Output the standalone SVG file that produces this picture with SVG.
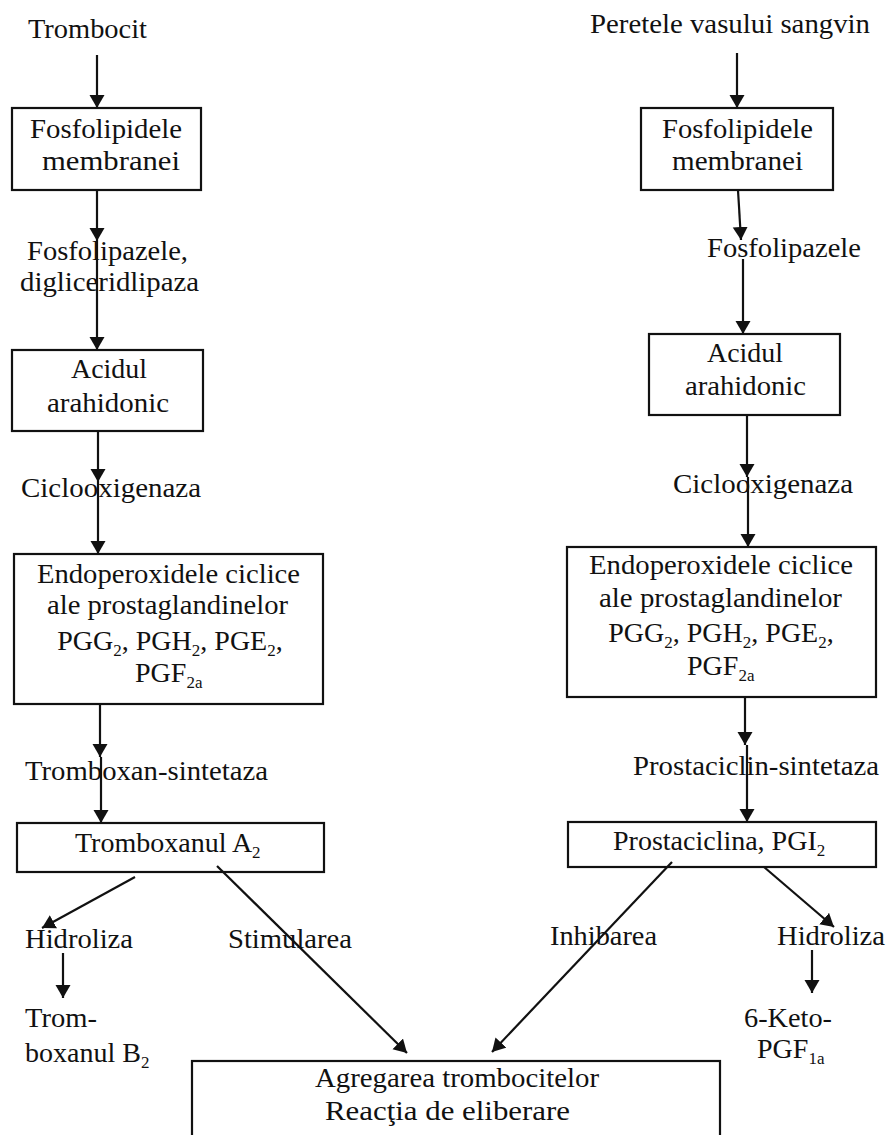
<svg xmlns="http://www.w3.org/2000/svg" width="887" height="1135" viewBox="0 0 887 1135">
<defs>
<style>
text{font-family:"Liberation Serif","Times New Roman",serif;font-size:28px;fill:#111}
.sub{font-size:17px}
.box{fill:none;stroke:#111;stroke-width:2.2}
.c line{stroke:#111;stroke-width:2.2;marker-end:url(#ah)}
</style>
<marker id="ah" markerUnits="userSpaceOnUse" markerWidth="16" markerHeight="16" refX="13" refY="7.5" orient="auto">
<path d="M0,0 L13,7.5 L0,15 z" fill="#111"/>
</marker>
</defs>
<rect width="887" height="1135" fill="#fff"/>

<g id="trombocit"><text x="28" y="38" textLength="119" lengthAdjust="spacingAndGlyphs">Trombocit</text></g>
<g id="L-fosfolipide"><rect class="box" x="12" y="108" width="189" height="82"/>
<text x="30" y="138" textLength="152" lengthAdjust="spacingAndGlyphs">Fosfolipidele</text>
<text x="42" y="170" textLength="138" lengthAdjust="spacingAndGlyphs">membranei</text></g>
<g id="L-fosfolipaze"><text x="27" y="260" textLength="161" lengthAdjust="spacingAndGlyphs">Fosfolipazele,</text>
<text x="20" y="291" textLength="179" lengthAdjust="spacingAndGlyphs">digliceridlipaza</text></g>
<g id="L-acid"><rect class="box" x="12" y="350" width="191" height="81"/>
<text x="71" y="378" textLength="76" lengthAdjust="spacingAndGlyphs">Acidul</text>
<text x="47" y="412" textLength="122" lengthAdjust="spacingAndGlyphs">arahidonic</text></g>
<g id="L-ciclo"><text x="21" y="497" textLength="180" lengthAdjust="spacingAndGlyphs">Ciclooxigenaza</text></g>
<g id="L-endo"><rect class="box" x="14" y="554" width="309" height="150"/>
<text x="37" y="583" textLength="263" lengthAdjust="spacingAndGlyphs">Endoperoxidele ciclice</text>
<text x="47" y="614" textLength="241" lengthAdjust="spacingAndGlyphs">ale prostaglandinelor</text>
<text x="170" y="650" text-anchor="middle">PGG<tspan class="sub" dy="6">2</tspan><tspan dy="-6">, PGH</tspan><tspan class="sub" dy="6">2</tspan><tspan dy="-6">, PGE</tspan><tspan class="sub" dy="6">2</tspan><tspan dy="-6">,</tspan></text>
<text x="135" y="682">PGF<tspan class="sub" dy="6">2a</tspan></text></g>
<g id="L-sintetaza"><text x="25" y="780" textLength="243" lengthAdjust="spacingAndGlyphs">Tromboxan-sintetaza</text></g>
<g id="L-tromboxan"><rect class="box" x="17" y="823" width="307" height="49"/>
<text x="75" y="852">Tromboxanul A<tspan class="sub" dy="6">2</tspan></text></g>
<g id="L-hidroliza"><text x="25" y="948" textLength="108" lengthAdjust="spacingAndGlyphs">Hidroliza</text></g>
<g id="stimularea"><text x="228" y="948" textLength="124" lengthAdjust="spacingAndGlyphs">Stimularea</text></g>
<g id="tromboxanB2"><text x="25" y="1027" textLength="72" lengthAdjust="spacingAndGlyphs">Trom-</text>
<text x="25" y="1062">boxanul B<tspan class="sub" dy="6">2</tspan></text></g>

<g id="perete"><text x="590" y="33" textLength="280" lengthAdjust="spacingAndGlyphs">Peretele vasului sangvin</text></g>
<g id="R-fosfolipide"><rect class="box" x="641" y="108" width="192" height="82"/>
<text x="662" y="138" textLength="151" lengthAdjust="spacingAndGlyphs">Fosfolipidele</text>
<text x="672" y="170" textLength="131" lengthAdjust="spacingAndGlyphs">membranei</text></g>
<g id="R-fosfolipaze"><text x="707" y="257" textLength="154" lengthAdjust="spacingAndGlyphs">Fosfolipazele</text></g>
<g id="R-acid"><rect class="box" x="649" y="334" width="191" height="81"/>
<text x="707" y="362" textLength="76" lengthAdjust="spacingAndGlyphs">Acidul</text>
<text x="685" y="395" textLength="121" lengthAdjust="spacingAndGlyphs">arahidonic</text></g>
<g id="R-ciclo"><text x="673" y="493" textLength="180" lengthAdjust="spacingAndGlyphs">Ciclooxigenaza</text></g>
<g id="R-endo"><rect class="box" x="567" y="547" width="309" height="150"/>
<text x="589" y="574" textLength="264" lengthAdjust="spacingAndGlyphs">Endoperoxidele ciclice</text>
<text x="599" y="607" textLength="243" lengthAdjust="spacingAndGlyphs">ale prostaglandinelor</text>
<text x="721" y="642" text-anchor="middle">PGG<tspan class="sub" dy="6">2</tspan><tspan dy="-6">, PGH</tspan><tspan class="sub" dy="6">2</tspan><tspan dy="-6">, PGE</tspan><tspan class="sub" dy="6">2</tspan><tspan dy="-6">,</tspan></text>
<text x="687" y="675">PGF<tspan class="sub" dy="6">2a</tspan></text></g>
<g id="R-sintetaza"><text x="633" y="775" textLength="246" lengthAdjust="spacingAndGlyphs">Prostaciclin-sintetaza</text></g>
<g id="R-prostaciclina"><rect class="box" x="568" y="822" width="308" height="45"/>
<text x="613" y="850">Prostaciclina, PGI<tspan class="sub" dy="6">2</tspan></text></g>
<g id="inhibarea"><text x="550" y="945" textLength="107" lengthAdjust="spacingAndGlyphs">Inhibarea</text></g>
<g id="R-hidroliza"><text x="777" y="945" textLength="108" lengthAdjust="spacingAndGlyphs">Hidroliza</text></g>
<g id="keto"><text x="744" y="1027" textLength="88" lengthAdjust="spacingAndGlyphs">6-Keto-</text>
<text x="757" y="1058">PGF<tspan class="sub" dy="6">1a</tspan></text></g>

<g id="agregare"><rect class="box" x="192" y="1061" width="528" height="90"/>
<text x="315" y="1087" textLength="284" lengthAdjust="spacingAndGlyphs">Agregarea trombocitelor</text>
<text x="325" y="1120" textLength="245" lengthAdjust="spacingAndGlyphs">Reacţia de eliberare</text></g>

<g id="connectors" class="c">
<line x1="97" y1="55" x2="97" y2="108"/>
<line x1="97" y1="190" x2="97" y2="241"/>
<line x1="97" y1="241" x2="97" y2="350"/>
<line x1="98" y1="431" x2="98" y2="482"/>
<line x1="98" y1="482" x2="98" y2="554"/>
<line x1="100" y1="704" x2="100" y2="757"/>
<line x1="101" y1="757" x2="101" y2="823"/>
<line x1="135" y1="877" x2="42" y2="928"/>
<line x1="63" y1="953" x2="63" y2="998"/>
<line x1="217" y1="866" x2="407" y2="1053"/>
<line x1="737" y1="53" x2="737" y2="108"/>
<line x1="738" y1="190" x2="741" y2="240"/>
<line x1="743" y1="259" x2="743" y2="334"/>
<line x1="747" y1="415" x2="747" y2="477"/>
<line x1="748" y1="477" x2="748" y2="547"/>
<line x1="745" y1="697" x2="745" y2="745"/>
<line x1="747" y1="745" x2="747" y2="822"/>
<line x1="672" y1="862" x2="492" y2="1052"/>
<line x1="764" y1="867" x2="834" y2="927"/>
<line x1="812" y1="950" x2="812" y2="993"/>
</g>
</svg>
